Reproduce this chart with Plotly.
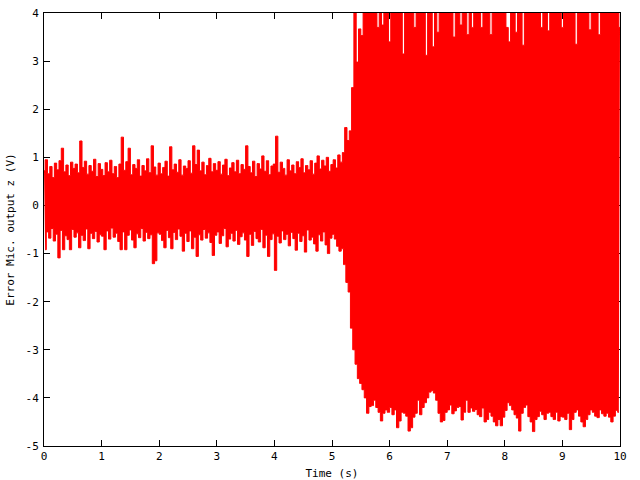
import numpy as np
import plotly.graph_objects as go

# Peak (upper) values sampled every 0.04 s from t = 0 to 10 s (25 per second + final)
upper = [
    # 0 s
    0.72, 0.95, 0.66, 0.81, 0.58, 0.88, 0.74, 0.93, 1.19, 0.70, 0.84, 0.62, 0.90, 0.77, 0.86, 0.68, 1.34, 0.79, 0.92, 0.65, 0.83, 0.71, 0.96, 0.60, 0.87,
    # 1 s
    0.75, 0.62, 0.89, 0.70, 0.94, 0.66, 0.81, 0.58, 0.86, 1.42, 0.73, 0.91, 1.19, 0.64, 0.85, 0.77, 0.95, 0.61, 0.83, 0.72, 0.97, 0.68, 1.24, 0.80, 0.63,
    # 2 s
    0.88, 0.66, 0.79, 0.92, 0.61, 1.22, 0.74, 0.86, 0.69, 0.95, 0.63, 0.82, 0.77, 0.93, 0.67, 1.24, 0.85, 1.15, 0.72, 0.90, 0.64, 0.83, 0.98, 0.70, 0.87,
    # 3 s
    0.73, 0.91, 0.65, 0.84, 0.96, 0.62, 0.78, 0.89, 0.70, 0.94, 0.66, 0.85, 0.75, 1.24, 0.81, 0.68, 0.92, 0.60, 0.87, 0.76, 1.03, 0.71, 0.93, 0.64, 0.82,
    # 4 s
    0.86, 1.44, 0.69, 0.90, 0.77, 0.63, 0.95, 0.72, 0.84, 0.66, 0.91, 0.79, 0.97, 0.68, 0.83, 0.74, 0.93, 0.65, 0.88, 1.03, 0.76, 0.94, 0.82, 1.00, 0.71,
    # 5 s
    0.85, 0.95, 0.78, 1.05, 0.90, 1.10, 1.62, 1.35, 1.55, 2.45, 4.30, 2.98, 3.67, 3.53, 4.40, 4.30, 4.50, 4.30, 4.40, 4.50, 3.70, 4.40, 3.75, 4.30, 4.50,
    # 6 s
    3.40, 4.40, 4.30, 4.50, 4.40, 4.30, 3.15, 4.40, 4.30, 4.50, 4.40, 3.70, 4.40, 4.30, 4.50, 4.40, 3.12, 4.40, 4.30, 3.30, 4.50, 3.60, 4.40, 4.50, 4.30,
    # 7 s
    4.40, 4.30, 4.50, 3.50, 4.40, 4.30, 3.75, 4.50, 4.40, 3.55, 4.30, 3.70, 4.50, 4.40, 4.30, 3.70, 4.40, 4.50, 4.30, 3.55, 4.40, 4.30, 4.50, 4.40, 4.30,
    # 8 s
    4.40, 3.70, 3.40, 4.30, 4.50, 3.60, 4.40, 4.30, 3.33, 4.50, 4.40, 4.30, 4.50, 4.40, 4.30, 4.50, 3.70, 4.40, 4.30, 3.63, 4.50, 4.40, 4.30, 4.50, 4.40,
    # 9 s
    3.70, 4.40, 4.30, 4.50, 4.40, 4.30, 3.35, 4.50, 4.40, 4.30, 4.50, 4.40, 3.65, 4.30, 4.50, 4.40, 3.55, 4.30, 4.50, 4.40, 4.30, 4.50, 4.40, 4.30, 4.50,
    # 10 s
    3.70,
]

# Trough (lower) values, each 0.02 s after the matching peak
lower = [
    # 0 s
    -0.92, -0.55, -0.68, -0.48, -0.74, -0.60, -1.09, -0.52, -0.92, -0.63, -0.71, -0.92, -0.50, -0.66, -0.57, -0.88, -0.62, -0.73, -0.49, -0.90, -0.58, -0.69, -0.54, -0.76, -0.61,
    # 1 s
    -0.64, -0.92, -0.53, -0.70, -0.47, -0.66, -0.58, -0.75, -0.92, -0.55, -0.92, -0.62, -0.51, -0.72, -0.88, -0.59, -0.67, -0.48, -0.74, -0.56, -0.69, -0.61, -1.21, -1.15, -0.57,
    # 2 s
    -0.60, -0.73, -0.88, -0.52, -0.67, -0.90, -0.56, -0.71, -0.49, -0.64, -0.95, -0.58, -0.75, -0.53, -0.90, -0.66, -1.06, -0.61, -0.72, -0.50, -0.68, -0.57, -0.77, -1.04, -0.62,
    # 3 s
    -0.55, -0.79, -0.63, -0.48, -0.86, -0.70, -0.58, -0.74, -0.52, -0.81, -0.65, -0.57, -0.72, -1.06, -0.60, -0.83, -0.54, -0.69, -0.76, -0.50, -0.88, -0.62, -1.06, -0.71, -0.59,
    # 4 s
    -1.35, -0.64, -0.78, -0.53, -0.71, -0.60, -0.84, -0.56, -0.69, -0.93, -0.58, -0.75, -0.63, -0.97, -0.51, -0.72, -0.66, -0.80, -0.95, -0.61, -0.74, -0.55, -0.82, -1.00, -0.68,
    # 5 s
    -0.60, -0.70, -0.85, -0.95, -0.90, -1.23, -1.60, -1.80, -2.55, -3.00, -3.30, -3.60, -3.70, -3.83, -4.00, -4.32, -4.18, -4.16, -4.05, -4.20, -4.30, -4.48, -4.32, -4.25, -4.30,
    # 6 s
    -4.20, -4.35, -4.25, -4.62, -4.48, -4.30, -4.32, -4.38, -4.69, -4.62, -4.40, -4.32, -4.05, -4.35, -4.20, -4.10, -4.00, -3.88, -3.85, -3.90, -4.05, -4.32, -4.50, -4.47, -4.30,
    # 7 s
    -4.25, -4.15, -4.33, -4.27, -4.20, -4.18, -4.46, -4.30, -4.05, -4.30, -4.21, -4.28, -4.24, -4.35, -4.39, -4.21, -4.50, -4.45, -4.30, -4.38, -4.50, -4.58, -4.45, -4.58, -4.40,
    # 8 s
    -4.26, -4.10, -4.16, -4.25, -4.35, -4.42, -4.69, -4.32, -4.20, -4.15, -4.39, -4.50, -4.70, -4.45, -4.39, -4.28, -4.35, -4.45, -4.32, -4.30, -4.39, -4.45, -4.30, -4.48, -4.39,
    # 9 s
    -4.40, -4.45, -4.32, -4.66, -4.45, -4.30, -4.25, -4.38, -4.50, -4.60, -4.45, -4.35, -4.25, -4.30, -4.38, -4.41, -4.25, -4.33, -4.38, -4.32, -4.40, -4.50, -4.38, -4.26, -4.30,
]

sample_step = 0.04   # s between successive peaks
x_ticks = [0, 1, 2, 3, 4, 5, 6, 7, 8, 9, 10]
x_tick_labels = ["0", "1", "2", "3", "4", "5", "6", "7", "8", "9", "10"]
y_ticks = [-5, -4, -3, -2, -1, 0, 1, 2, 3, 4]
y_tick_labels = ["-5", "-4", "-3", "-2", "-1", "0", "1", "2", "3", "4"]

t_peak = np.arange(len(upper)) * sample_step
t_trough = np.arange(len(lower)) * sample_step + sample_step / 2

FONT = "DejaVu Sans Mono"
RED = "#ff0000"

fig = go.Figure()
# lower envelope of the signal
fig.add_trace(go.Scatter(x=t_trough, y=lower, mode="lines",
                         line=dict(color=RED, width=1, shape="hvh", simplify=False),
                         hoverinfo="skip", showlegend=False))
# upper envelope, filled down to the lower one
fig.add_trace(go.Scatter(x=t_peak, y=upper, mode="lines",
                         line=dict(color=RED, width=1, shape="hvh", simplify=False),
                         fill="tonexty", fillcolor=RED,
                         hoverinfo="skip", showlegend=False))

axis_common = dict(
    showgrid=False, zeroline=False, showline=True, linecolor="black", linewidth=1,
    mirror="ticks", ticks="inside", ticklen=6, tickwidth=1, tickcolor="black",
    layer="below traces", automargin=False,
    tickfont=dict(family=FONT, size=11, color="black"),
)

fig.update_layout(
    width=640, height=480,
    margin=dict(l=44, r=20, t=13, b=34, autoexpand=False),
    paper_bgcolor="white", plot_bgcolor="white",
    xaxis=dict(range=[0, 10], tickvals=x_ticks, ticktext=x_tick_labels,
               title=dict(text="Time (s)", font=dict(family=FONT, size=11, color="black"), standoff=7),
               **axis_common),
    yaxis=dict(range=[-5, 4], tickvals=y_ticks, ticktext=y_tick_labels, ticklabelstandoff=2,
               title=dict(text="Error Mic. output z (V)", font=dict(family=FONT, size=11, color="black"), standoff=8),
               **axis_common),
)

fig.write_html("out.html", config={"displayModeBar": False},
               post_script="document.body.style.margin='0px';")
